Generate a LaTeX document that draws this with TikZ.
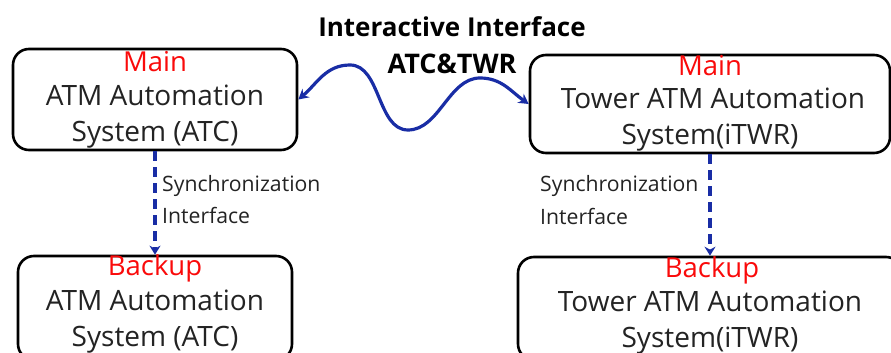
\documentclass[tikz,border=0pt]{standalone}
\usepackage{fontspec}
\setmainfont{Open Sans}
\usetikzlibrary{arrows.meta}
\definecolor{wave}{RGB}{25,45,165}
\definecolor{txt}{RGB}{35,35,35}
\definecolor{red}{RGB}{250,10,10}
\begin{document}
\begin{tikzpicture}[x=1pt,y=1pt,
  sysbox/.style={draw=black,line width=2.6pt,rounded corners=16pt,fill=white,inner sep=0pt},
  systxt/.style={text=txt,font=\fontsize{28}{28}\selectfont,inner sep=0pt},
  roletxt/.style={text=red,font=\fontsize{27.5}{27.5}\selectfont,inner sep=0pt},
  synctxt/.style={text=txt,font=\fontsize{21.2}{21.2}\selectfont,inner sep=0pt,anchor=west},
  titletxt/.style={text=black,font=\bfseries\fontsize{26}{26}\selectfont,inner sep=0pt},
  syncarrow/.style={draw=wave,line width=3.5pt,dash pattern=on 10pt off 6pt,-{Stealth[length=9pt,width=11pt]}},
  wavearrow/.style={draw=wave,line width=3.2pt,{Stealth[length=10pt,width=11pt]}-{Stealth[length=10pt,width=11pt]}}
]
\useasboundingbox (0,0) rectangle (891,353);
\node[sysbox,minimum width=284pt,minimum height=101pt] (tl) at (155,253.5) {};
\node[sysbox,minimum width=360pt,minimum height=98pt] (tr) at (710,249) {};
\node[sysbox,minimum width=274pt,minimum height=104pt] (bl) at (155,45) {};
\node[sysbox,minimum width=384pt,minimum height=103pt] (br) at (710,44.5) {};

\node[roletxt] (tlrole) at (155,291) {Main};
\node[systxt] (tl1) at (155,258) {ATM Automation};
\node[systxt] (tl2) at (155,218) {System (ATC)};

\node[roletxt] (trrole) at (710,287) {Main};
\node[systxt] (tr1) at (713,255) {Tower ATM Automation};
\node[systxt] (tr2) at (710,215) {System(iTWR)};

\node[roletxt] (blrole) at (155,85) {Backup};
\node[systxt] (bl1) at (155,53) {ATM Automation};
\node[systxt] (bl2) at (155,13) {System (ATC)};

\node[roletxt] (brrole) at (712,83) {Backup};
\node[systxt] (br1) at (710,52) {Tower ATM Automation};
\node[systxt] (br2) at (710,12) {System(iTWR)};

\node[titletxt] (title) at (452,326) {Interactive Interface};
\node[titletxt,font=\bfseries\fontsize{27}{27}\selectfont] (atctwr) at (452,289) {ATC\&TWR};

\node[synctxt] (ls1) at (162,167) {Synchronization};
\node[synctxt] (ls2) at (162,138) {Interface};
\node[synctxt] (rs1) at (540,167) {Synchronization};
\node[synctxt] (rs2) at (540,137) {Interface};

\draw[syncarrow] (tl.south) -- (bl.north);
\draw[syncarrow] (tr.south) -- (br.north);

\coordinate (p1) at (350,288);
\coordinate (p2) at (408,223);
\coordinate (p3) at (480,275);
\draw[wavearrow] (tl.east) to[out=40,in=180] (p1) to[out=0,in=180,looseness=0.9] (p2) to[out=0,in=180,looseness=0.9] (p3) to[out=0,in=145] (tr.west);
\end{tikzpicture}
\end{document}
